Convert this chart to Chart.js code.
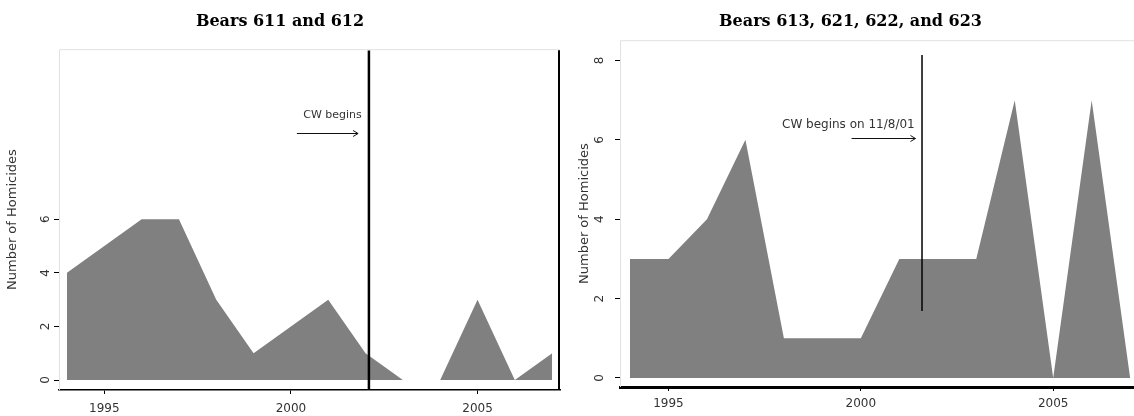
<!DOCTYPE html>
<html>
<head>
<meta charset="utf-8">
<script src="https://cdn.jsdelivr.net/npm/chart.js@4"></script>
<style>
  body { margin: 0; background: #fff; }
  #wrap { position: relative; width: 1134px; height: 416px; }
  canvas { position: absolute; top: 0; }
</style>
</head>
<body>
<div id="wrap">
  <canvas id="left" width="567" height="416" style="left:0"></canvas>
  <canvas id="right" width="567" height="416" style="left:567px"></canvas>
</div>
<script>
const years = [1994, 1995, 1996, 1997, 1998, 1999, 2000, 2001, 2002, 2003, 2004, 2005, 2006, 2007];
const homicides611 = [4, 5, 6, 6, 3, 1, 2, 3, 1, 0, 0, 3, 0, 1];
const homicides613 = [3, 3, 4, 6, 1, 1, 1, 3, 3, 3, 7, 0, 7, 0];
const xTicks = [1995, 2000, 2005];
const yTicksLeft = [0, 2, 4, 6];
const yTicksRight = [0, 2, 4, 6, 8];
const titles = ["Bears 611 and 612", "Bears 613, 621, 622, and 623"];
const yTitle = "Number of Homicides";
const cwYears = [2002.09, 2001.59];
const cwLabels = ["CW begins", "CW begins on 11/8/01"];

Chart.defaults.font.family = "DejaVu Sans";

function drawArrow(ctx, x1, x2, y) {
  ctx.beginPath();
  ctx.moveTo(x1, y);
  ctx.lineTo(x2, y);
  ctx.moveTo(x2 - 5, y - 3);
  ctx.lineTo(x2, y);
  ctx.lineTo(x2 - 5, y + 3);
  ctx.stroke();
}

function cwPlugin(cfg) {
  return {
    id: "cwMarks",
    afterDatasetsDraw(chart) {
      const {ctx, chartArea: a, scales: {x, y}} = chart;
      ctx.save();
      // faint box edges
      ctx.strokeStyle = "#e2e2e2";
      ctx.lineWidth = 1;
      ctx.beginPath();
      ctx.moveTo(a.left + 0.5, a.bottom);
      ctx.lineTo(a.left + 0.5, a.top + 0.5);
      ctx.lineTo(a.right, a.top + 0.5);
      ctx.stroke();
      if (cfg.rightBorder) {
        ctx.strokeStyle = "#000";
        ctx.lineWidth = 2;
        ctx.beginPath();
        ctx.moveTo(a.right - 1, a.top + 1);
        ctx.lineTo(a.right - 1, a.bottom);
        ctx.stroke();
      }
      const cx = x.getPixelForValue(cfg.cwYear);
      ctx.strokeStyle = "#000";
      ctx.lineWidth = cfg.cwWidth;
      ctx.beginPath();
      ctx.moveTo(cx, y.getPixelForValue(cfg.cwTop));
      ctx.lineTo(cx, y.getPixelForValue(cfg.cwBottom));
      ctx.stroke();

      ctx.font = cfg.labelSize + "px DejaVu Sans";
      ctx.fillStyle = "#333";
      ctx.textAlign = "right";
      ctx.textBaseline = "middle";
      ctx.fillText(cfg.label, x.getPixelForValue(cfg.labelAt[0]), y.getPixelForValue(cfg.labelAt[1]));
      ctx.strokeStyle = "#111";
      ctx.lineWidth = 1;
      drawArrow(ctx, x.getPixelForValue(cfg.arrow[0]), x.getPixelForValue(cfg.arrow[1]),
        Math.round(y.getPixelForValue(cfg.arrow[2])) + 0.5);
      ctx.restore();
    }
  };
}

function makeChart(id, values, o) {
  return new Chart(id, {
    type: "line",
    data: {
      datasets: [{
        data: years.map((yr, i) => ({x: yr, y: values[i]})),
        fill: "origin",
        backgroundColor: "#808080",
        borderColor: "#808080",
        borderWidth: 0,
        pointRadius: 0,
        tension: 0,
      }],
    },
    options: {
      responsive: false,
      animation: false,
      layout: {padding: {left: 0, right: o.padRight, top: 0, bottom: 0}},
      plugins: {
        legend: {display: false},
        tooltip: {enabled: false},
        title: {
          display: true,
          text: o.title,
          color: "#000",
          font: {family: "DejaVu Serif", size: 16, weight: "bold"},
          padding: {top: 12, bottom: o.titleGap},
        },
      },
      scales: {
        x: {
          type: "linear",
          min: o.xMin,
          max: o.xMax,
          afterBuildTicks: s => { s.ticks = xTicks.map(v => ({value: v})); },
          afterFit: s => { s.height = o.xHeight; },
          ticks: {
            callback: v => String(v),
            color: "#333",
            font: {size: 12},
            padding: o.xPad,
            maxRotation: 0,
          },
          grid: {drawOnChartArea: false, tickLength: 4, color: "#000"},
          border: {display: true, color: "#000", width: o.axisWidth},
        },
        y: {
          type: "linear",
          min: o.yMin,
          max: o.yMax,
          afterBuildTicks: s => { s.ticks = o.yTicks.map(v => ({value: v})); },
          afterFit: s => { s.width = o.yWidth; },
          ticks: {
            color: "#333",
            font: {size: 12},
            minRotation: 90,
            maxRotation: 90,
            crossAlign: "center",
            padding: o.yPad,
          },
          grid: {drawOnChartArea: false, tickLength: 5, color: "#000"},
          border: {display: false},
          title: {
            display: true,
            text: yTitle,
            color: "#333",
            font: {size: 13},
            padding: {top: o.yTitlePad, bottom: 0},
          },
        },
      },
    },
    plugins: [cwPlugin(o.cw)],
  });
}

makeChart("left", homicides611, {
  title: titles[0],
  titleGap: 18,
  padRight: 7,
  xMin: 1993.786, xMax: 2007.21,
  yMin: -0.373, yMax: 12.35,
  yTicks: yTicksLeft,
  xHeight: 26, yWidth: 59,
  xPad: 8, yPad: 4, yTitlePad: 5,
  axisWidth: 1.5,
  cw: {
    cwYear: cwYears[0], cwTop: 12.3, cwBottom: -0.373, cwWidth: 2.5,
    rightBorder: true,
    label: cwLabels[0], labelSize: 11, labelAt: [2001.9, 9.89],
    arrow: [2000.16, 2001.8, 9.22],
  },
});

makeChart("right", homicides613, {
  title: titles[1],
  titleGap: 9,
  padRight: 0,
  xMin: 1993.74, xMax: 2007.1,
  yMin: -0.227, yMax: 8.51,
  yTicks: yTicksRight,
  xHeight: 29, yWidth: 53,
  xPad: 6, yPad: 11, yTitlePad: 10,
  axisWidth: 3,
  cw: {
    cwYear: cwYears[1], cwTop: 8.14, cwBottom: 1.69, cwWidth: 1.5,
    rightBorder: false,
    label: cwLabels[1], labelSize: 12, labelAt: [2001.4, 6.37],
    arrow: [1999.76, 2001.42, 6.05],
  },
});
</script>
</body>
</html>
